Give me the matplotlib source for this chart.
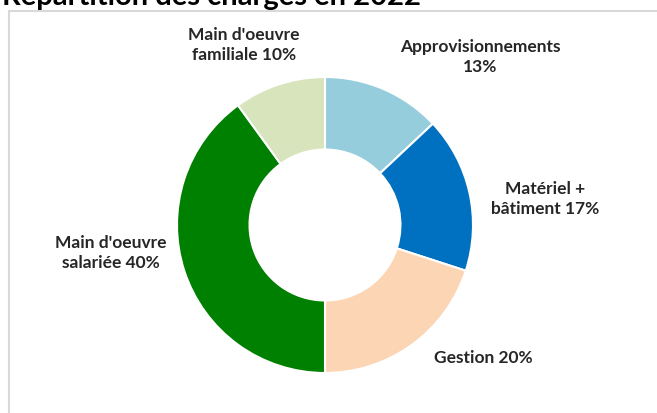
import matplotlib.pyplot as plt
from matplotlib.patches import Rectangle

plt.rcParams['font.family'] = ['Lato', 'DejaVu Sans']

# data
labels = ["Approvisionnements\n13%", "Matériel +\nbâtiment 17%", "Gestion 20%",
          "Main d'oeuvre\nsalariée 40%", "Main d'oeuvre\nfamiliale 10%"]
values = [13, 17, 20, 40, 10]
colors = ['#96CDDC', '#0070C0', '#FCD5B5', '#008000', '#D8E4BC']
# label positions (pie radius = 1)
label_pos = [(1.05, 1.14), (1.49, 0.18), (1.07, -0.89), (-1.45, -0.18), (-0.55, 1.22)]

W, H = 657, 414
fig = plt.figure(figsize=(W / 100, H / 100), dpi=100)

# chart area border
fig.patches.append(Rectangle((9 / W, -0.1), 1.2, 1 - 12 / H + 0.1,
                             transform=fig.transFigure, fill=False,
                             edgecolor='#D9D9D9', lw=1.5))

cx, cy, r = 325, 226, 148
ax = fig.add_axes([(cx - r) / W, (H - cy - r) / H, 2 * r / W, 2 * r / H])
ax.pie(values, colors=colors, startangle=90, counterclock=False, radius=1,
       wedgeprops=dict(width=0.49, edgecolor='white', linewidth=1.5))
ax.set_xlim(-1, 1)
ax.set_ylim(-1, 1)
ax.axis('off')

for lab, (x, y) in zip(labels, label_pos):
    ax.text(x, y, lab, ha='center', va='center', fontsize=12.5, fontweight='bold',
            color='#262626', linespacing=1.3, clip_on=False)

fig.text(2 / W, 1 - 4.5 / H, "Répartition des charges en 2022", ha='left', va='baseline',
         fontsize=21, fontweight='bold', color='black')

fig.savefig('out.png', dpi=100)
